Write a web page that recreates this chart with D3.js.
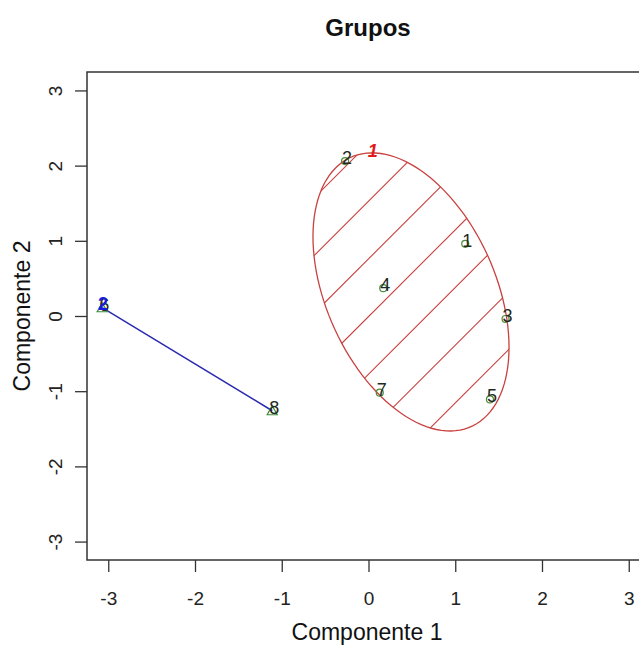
<!DOCTYPE html>
<html>
<head>
<meta charset="utf-8">
<script src="https://cdn.jsdelivr.net/npm/d3@7"></script>
<style>
  body { margin: 0; background: #fff; }
  svg { display: block; font-family: "Liberation Sans", Arial, sans-serif; }
</style>
</head>
<body>
<svg id="mysvg" width="639" height="647"></svg>
<script>
// observations (component 1, component 2) and their labels
let obsLabels = ["1", "2", "3", "4", "5", "6", "7", "8"];
let comp1 = [1.115, -0.27, 1.58, 0.17, 1.40, -3.07, 0.13, -1.11];
let comp2 = [0.96, 2.06, -0.04, 0.37, -1.11, 0.11, -1.02, -1.26];
let cluster = [1, 1, 1, 1, 1, 2, 1, 2];

// cluster labels
let clusLabels = ["1", "2"];
let clusLabelX = [0.05, -3.06];
let clusLabelY = [2.19, 0.16];

// cluster 1 ellipse: centre and spread
let ellCenter = [0.49, 0.32];
let ellSxx = 1.277, ellSyy = 3.42, ellSxy = -0.83;

let xTicks = [-3, -2, -1, 0, 1, 2, 3];
let yTicks = [-3, -2, -1, 0, 1, 2, 3];

var svg = d3.select("#mysvg");
var pLeft = 87, pTop = 72, pRight = 650, pBottom = 560;

var x = d3.scaleLinear().domain([-3.245, 3.245]).range([pLeft, pRight]);
var y = d3.scaleLinear().domain([-3.245, 3.245]).range([pBottom, pTop]);

svg.append("rect").attr("width", 639).attr("height", 647).attr("fill", "#fff");

// title
svg.append("text")
    .attr("x", 368).attr("y", 36)
    .attr("text-anchor", "middle")
    .attr("font-size", "24px")
    .attr("font-weight", "bold")
    .attr("fill", "#111")
    .text("Grupos");

function fmt(d) { return d < 0 ? "-" + Math.abs(d) : d; }

// axes
var xAxis = svg.append("g")
    .attr("transform", "translate(0," + pBottom + ")")
    .call(d3.axisBottom(x).tickValues(xTicks).tickSize(12).tickPadding(20).tickFormat(fmt));
xAxis.select(".domain").remove();
xAxis.selectAll("line").attr("stroke", "#333").attr("stroke-width", 1.3);
xAxis.selectAll("text").attr("font-size", "19px").attr("fill", "#222")
    .attr("font-family", "Liberation Sans, Arial, sans-serif");

var yAxis = svg.append("g")
    .attr("transform", "translate(" + pLeft + ",0)")
    .call(d3.axisLeft(y).tickValues(yTicks).tickSize(12).tickFormat(fmt));
yAxis.select(".domain").remove();
yAxis.selectAll("line").attr("stroke", "#333").attr("stroke-width", 1.3);
yAxis.selectAll("text")
    .attr("font-size", "19px").attr("fill", "#222")
    .attr("font-family", "Liberation Sans, Arial, sans-serif")
    .attr("x", 0).attr("dy", null)
    .attr("text-anchor", "middle")
    .attr("transform", "translate(-32,0) rotate(-90) translate(0,7)");

// axis labels
svg.append("text")
    .attr("x", 367).attr("y", 640)
    .attr("text-anchor", "middle")
    .attr("font-size", "23px")
    .attr("fill", "#111")
    .text("Componente 1");

svg.append("text")
    .attr("transform", "translate(30," + y(0) + ") rotate(-90)")
    .attr("text-anchor", "middle")
    .attr("font-size", "23px")
    .attr("fill", "#111")
    .text("Componente 2");

// ellipse for cluster 1
var l11 = Math.sqrt(ellSxx);
var l21 = ellSxy / l11;
var l22 = Math.sqrt(ellSyy - l21 * l21);
var ellPts = d3.range(0, 361, 3).map(function(a) {
    var t = a * Math.PI / 180;
    var u = Math.cos(t), v = Math.sin(t);
    return [ellCenter[0] + l11 * u, ellCenter[1] + l21 * u + l22 * v];
});
var ellLine = d3.line().x(function(d) { return x(d[0]); }).y(function(d) { return y(d[1]); });

svg.append("clipPath").attr("id", "ellclip")
    .append("path").attr("d", ellLine(ellPts));

// hatching
var hatch = svg.append("g").attr("clip-path", "url(#ellclip)");
d3.range(0, 8).forEach(function(k) {
    var c = 512 + k * 57.7;
    hatch.append("line")
        .attr("x1", c - 700).attr("y1", 700)
        .attr("x2", c).attr("y2", 0)
        .attr("stroke", "#c8413f").attr("stroke-width", 1.1);
});

svg.append("path")
    .attr("d", ellLine(ellPts))
    .attr("fill", "none")
    .attr("stroke", "#c8413f")
    .attr("stroke-width", 1.3);

// cluster 2: degenerate ellipse (segment between its two points)
var c2 = d3.range(comp1.length).filter(function(i) { return cluster[i] == 2; });
svg.append("line")
    .attr("x1", x(comp1[c2[0]])).attr("y1", y(comp2[c2[0]]))
    .attr("x2", x(comp1[c2[1]])).attr("y2", y(comp2[c2[1]]))
    .attr("stroke", "#2a2ab0").attr("stroke-width", 1.5);

// observation symbols
d3.range(comp1.length).forEach(function(i) {
    var px = x(comp1[i]), py = y(comp2[i]);
    if (cluster[i] == 1) {
        svg.append("circle").attr("cx", px).attr("cy", py).attr("r", 3.5)
            .attr("fill", "none").attr("stroke", "#4a8a3a").attr("stroke-width", 1.2);
    } else {
        svg.append("path")
            .attr("d", "M" + px + "," + (py - 5) + "L" + (px + 5) + "," + (py + 4) + "L" + (px - 5) + "," + (py + 4) + "Z")
            .attr("fill", "none").attr("stroke", "#3a8a3a").attr("stroke-width", 1.2);
    }
});

// observation labels
d3.range(comp1.length).forEach(function(i) {
    svg.append("text")
        .attr("x", x(comp1[i]) + 2).attr("y", y(comp2[i]) + 3)
        .attr("text-anchor", "middle")
        .attr("font-size", "18px")
        .attr("fill", "#1e2a1e")
        .text(obsLabels[i]);
});

// cluster labels
var clusCol = ["#e01b1b", "#1a1ae0"];
d3.range(clusLabels.length).forEach(function(i) {
    svg.append("text")
        .attr("x", x(clusLabelX[i])).attr("y", y(clusLabelY[i]) + 6)
        .attr("text-anchor", "middle")
        .attr("font-size", "18px")
        .attr("font-style", i == 0 ? "italic" : "normal")
        .attr("font-weight", "bold")
        .attr("fill", clusCol[i])
        .text(clusLabels[i]);
});

// plot frame
svg.append("rect")
    .attr("x", pLeft).attr("y", pTop)
    .attr("width", pRight - pLeft).attr("height", pBottom - pTop)
    .attr("fill", "none").attr("stroke", "#333").attr("stroke-width", 1.5);
</script>
</body>
</html>
